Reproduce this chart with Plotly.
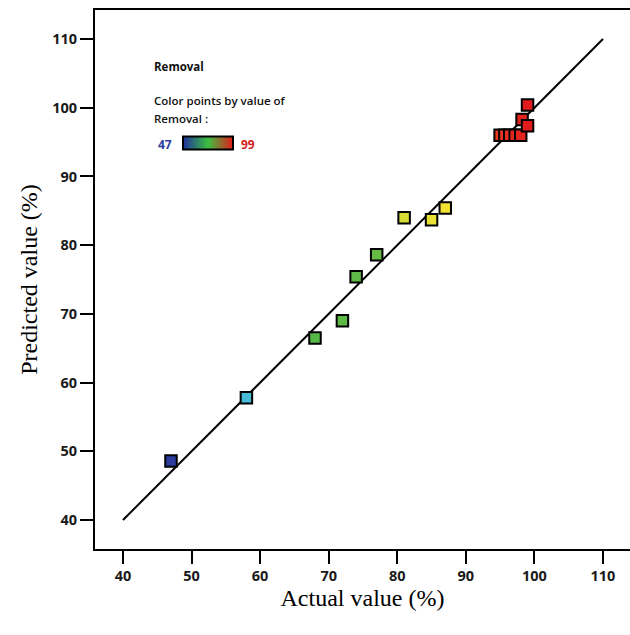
import plotly.graph_objects as go

# Data
actual = [47, 58, 68, 72, 74, 77, 81, 85, 87, 95, 95.7, 96.4, 97.2, 98, 98.2, 99, 99]
predicted = [48.6, 57.8, 66.5, 69.0, 75.4, 78.6, 84.0, 83.7, 85.4, 96.0, 96.0, 96.0, 96.0, 96.0, 98.3, 97.4, 100.4]
line_x = [40, 110]
line_y = [40, 110]
x_ticks = [40, 50, 60, 70, 80, 90, 100, 110]
y_ticks = [40, 50, 60, 70, 80, 90, 100, 110]
cmin, cmax = 47, 99

point_scale = [
    [0.0, '#2b3c9e'], [0.21, '#44bcd8'], [0.30, '#4db848'], [0.58, '#66bb44'],
    [0.65, '#d6dc34'], [0.77, '#f2e234'], [0.88, '#f04a24'], [1.0, '#e21c1c']
]
legend_scale = [[0.0, '#2030a0'], [0.5, '#3cc040'], [1.0, '#e21c1c']]

fig = go.Figure()
fig.add_trace(go.Scatter(x=line_x, y=line_y, mode='lines',
                         line=dict(color='black', width=2), showlegend=False, hoverinfo='skip'))
fig.add_trace(go.Scatter(
    x=actual, y=predicted, mode='markers', showlegend=False,
    marker=dict(symbol='square', size=11.5, color=actual, cmin=cmin, cmax=cmax,
                colorscale=point_scale, line=dict(color='black', width=2))))
# dummy trace for the gradient legend bar
fig.add_trace(go.Scatter(
    x=[None], y=[None], mode='markers', showlegend=False,
    marker=dict(color=[cmin], cmin=cmin, cmax=cmax, colorscale=legend_scale, showscale=True,
                colorbar=dict(orientation='h', lenmode='pixels', len=50, thickness=13,
                              x=0.211, xanchor='center', y=0.751, yanchor='middle',
                              outlinecolor='black', outlinewidth=2, showticklabels=False,
                              ticks='', xpad=0, ypad=0, borderwidth=0))))

tick_font = dict(family='Open Sans', size=14.5, color='#1a1a1a', weight=700)
fig.update_layout(
    width=630, height=635,
    margin=dict(l=95, r=0, t=10, b=86),
    paper_bgcolor='white', plot_bgcolor='white',
    xaxis=dict(range=[35.92, 113.94], tickvals=x_ticks, ticks='outside', ticklen=13,
               tickwidth=2, tickcolor='black', showline=True, linecolor='black', linewidth=2,
               mirror=True, showgrid=False, zeroline=False, tickfont=tick_font,
               title=dict(text='Actual value (%)', standoff=0,
                          font=dict(family='Liberation Serif', size=24, color='#000'))),
    yaxis=dict(range=[35.78, 114.23], tickvals=y_ticks, ticks='outside', ticklen=13,
               tickwidth=2, tickcolor='black', showline=True, linecolor='black', linewidth=2,
               mirror=False, showgrid=False, zeroline=False, tickfont=tick_font,
               title=dict(text='Predicted value (%)', standoff=8,
                          font=dict(family='Liberation Serif', size=24, color='#000'))),
)

annots = [
    (152, 67, '<b>Removal</b>', '#111'),
    (152, 101, 'Color points by value of', '#111'),
    (152, 118, 'Removal :', '#111'),
]
for px, py, txt, col in annots:
    fig.add_annotation(x=(px - 95) / 535, y=(549 - py) / 539, xref='paper', yref='paper',
                       text=txt, showarrow=False, xanchor='left', yanchor='middle',
                       font=dict(family='Open Sans', size=11.5, color=col, weight=600))
fig.add_annotation(x=(165 - 95) / 535, y=(549 - 144) / 539, xref='paper', yref='paper',
                   text=str(cmin), showarrow=False, xanchor='center', yanchor='middle',
                   font=dict(family='Open Sans', size=12, color='#2b3c9e', weight=700))
fig.add_annotation(x=(248 - 95) / 535, y=(549 - 144) / 539, xref='paper', yref='paper',
                   text=str(cmax), showarrow=False, xanchor='center', yanchor='middle',
                   font=dict(family='Open Sans', size=12, color='#d42020', weight=700))

fig.write_html('out.html')
